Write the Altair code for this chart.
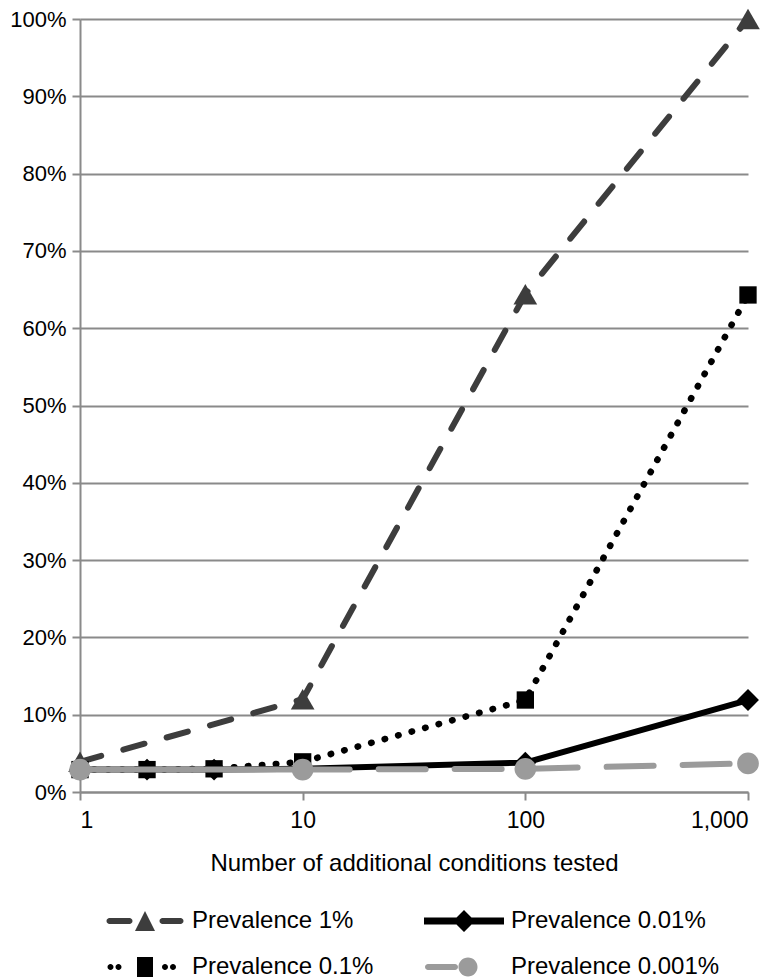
import altair as alt
import pandas as pd

# ---------------- data ----------------
x_main = [1, 10, 100, 1000]
x_full = [1, 2, 4, 10, 100, 1000]

# legend entries fill column by column
series_order = ["Prevalence 1%", "Prevalence 0.1%", "Prevalence 0.01%", "Prevalence 0.001%"]

prev_1 = [3.9, 12.0, 64.4, 100.0]            # Prevalence 1%      at x_main
prev_0_1 = [2.9, 2.9, 3.0, 3.9, 11.9, 64.3]  # Prevalence 0.1%    at x_full
prev_0_01 = [2.9, 2.9, 2.9, 3.0, 3.8, 11.9]  # Prevalence 0.01%   at x_full
prev_0_001 = [2.9, 2.9, 3.0, 3.7]            # Prevalence 0.001%  at x_main

rows = []
for n, v in zip(x_main, prev_1):
    rows.append({"series": "Prevalence 1%", "n": n, "p": v / 100})
for n, v in zip(x_full, prev_0_1):
    rows.append({"series": "Prevalence 0.1%", "n": n, "p": v / 100})
for n, v in zip(x_full, prev_0_01):
    rows.append({"series": "Prevalence 0.01%", "n": n, "p": v / 100})
for n, v in zip(x_main, prev_0_001):
    rows.append({"series": "Prevalence 0.001%", "n": n, "p": v / 100})
df = pd.DataFrame(rows)

FONT = "Liberation Sans"
GRID = "#8a8a8a"
C1 = "#3d3d3d"
C2 = "#000000"
C3 = "#000000"
C4 = "#9b9b9b"

x_enc = alt.X(
    "n:Q",
    scale=alt.Scale(type="log", domain=[1, 1000], nice=False),
    axis=alt.Axis(
        values=[1, 10, 100, 1000],
        format=",d",
        title="Number of additional conditions tested",
        grid=False,
    ),
)
y_enc = alt.Y(
    "p:Q",
    scale=alt.Scale(domain=[0, 1], nice=False, zero=True),
    axis=alt.Axis(
        values=[i / 10 for i in range(11)],
        format=".0%",
        title=None,
        grid=True,
    ),
)

base = alt.Chart(df).encode(x=x_enc, y=y_enc)


def sel(name):
    return base.transform_filter(alt.datum.series == name)


# Prevalence 1%: dark grey long dashes with triangles
l1 = sel("Prevalence 1%").mark_line(
    color=C1, strokeWidth=6, strokeDash=[22, 23], strokeCap="round"
)
p1 = sel("Prevalence 1%").mark_point(
    shape="triangle-up", filled=True, color=C1, size=560, opacity=1
)

# Prevalence 0.1%: black dots with squares
l2 = sel("Prevalence 0.1%").mark_line(
    color=C2, strokeWidth=6.5, strokeDash=[0.5, 13.5], strokeCap="round"
)
p2 = sel("Prevalence 0.1%").mark_point(
    shape="square", filled=True, color=C2, size=300, opacity=1
)

# Prevalence 0.01%: solid black with diamonds
l3 = sel("Prevalence 0.01%").mark_line(color=C3, strokeWidth=6)
p3 = sel("Prevalence 0.01%").mark_point(
    shape="diamond", filled=True, color=C3, size=480, opacity=1
)

# Prevalence 0.001%: grey, solid to 10 then long dashes, with circles
l4a = (
    sel("Prevalence 0.001%")
    .transform_filter(alt.datum.n <= 10)
    .mark_line(color=C4, strokeWidth=6)
)
l4b = (
    sel("Prevalence 0.001%")
    .transform_filter(alt.datum.n >= 10)
    .mark_line(color=C4, strokeWidth=6, strokeDash=[47, 29], strokeCap="round")
)
p4 = sel("Prevalence 0.001%").mark_point(
    shape="circle", filled=True, color=C4, size=470, opacity=1
)


# legend symbols (line + marker), custom paths in units of sqrt(size)/2
def capsule(x0, x1, h):
    r = h
    return (
        f"M{x0 + r},{-h} H{x1 - r} A{r},{r} 0 0 1 {x1 - r},{h} "
        f"H{x0 + r} A{r},{r} 0 0 1 {x0 + r},{-h} Z "
    )


def dot(cx, r):
    return f"M{cx - r},0 A{r},{r} 0 1 0 {cx + r},0 A{r},{r} 0 1 0 {cx - r},0 Z "


path_1 = capsule(-3.85, -1.25, 0.3) + "M0,-1 L1,1 L-1,1 Z " + capsule(1.45, 3.85, 0.3)
path_2 = (
    dot(-3.45, 0.3) + dot(-2.65, 0.3)
    + "M-0.8,-1 H0.8 V1 H-0.8 Z "
    + dot(2.0, 0.3) + dot(2.8, 0.3)
)
path_3 = "M-4,-0.35 H4 V0.35 H-4 Z M0,-1.1 L1.1,0 L0,1.1 L-1.1,0 Z"
path_4 = capsule(-3.9, -0.6, 0.3) + dot(0.4, 0.95)

legend_paths = {
    "Prevalence 1%": path_1,
    "Prevalence 0.01%": path_3,
    "Prevalence 0.1%": path_2,
    "Prevalence 0.001%": path_4,
}
legend_colors = {
    "Prevalence 1%": C1,
    "Prevalence 0.01%": C3,
    "Prevalence 0.1%": C2,
    "Prevalence 0.001%": C4,
}

leg = alt.Legend(
    title=None,
    orient="none",
    legendX=53,
    legendY=890,
    columns=2,
    columnPadding=50,
    rowPadding=22,
    symbolSize=400,
    symbolOpacity=1,
    symbolStrokeWidth=0,
    labelOffset=35,
    labelFont=FONT,
    labelFontSize=24,
    labelColor="#000000",
    labelLimit=400,
)

legend_layer = base.mark_point(filled=True, opacity=0, size=1).encode(
    shape=alt.Shape(
        "series:N",
        scale=alt.Scale(domain=series_order, range=[legend_paths[s] for s in series_order]),
        legend=leg,
    ),
    fill=alt.Fill(
        "series:N",
        scale=alt.Scale(domain=series_order, range=[legend_colors[s] for s in series_order]),
        legend=leg,
    ),
)

chart = (
    alt.layer(l1, p1, l2, p2, l3, p3, l4a, l4b, p4, legend_layer)
    .properties(
        width=668,
        height=773,
        autosize=alt.AutoSizeParams(type="none"),
        padding={"left": 72, "top": 11, "right": 24, "bottom": 190},
    )
    .configure_view(stroke=None)
    .configure_axis(
        labelFont=FONT,
        titleFont=FONT,
        labelFontSize=23,
        titleFontSize=24,
        titleFontWeight="normal",
        labelColor="#000000",
        titleColor="#000000",
        domainColor=GRID,
        domainWidth=2,
        tickColor=GRID,
        tickWidth=2,
        tickSize=8,
        gridColor=GRID,
        gridWidth=2,
        gridOpacity=1,
        labelPadding=9,
    )
    .configure_axisX(titlePadding=19)
    .configure_axisY(labelPadding=6, labelFontSize=22)
)

chart.save("out.html", embed_options={"renderer": "svg", "actions": False})
